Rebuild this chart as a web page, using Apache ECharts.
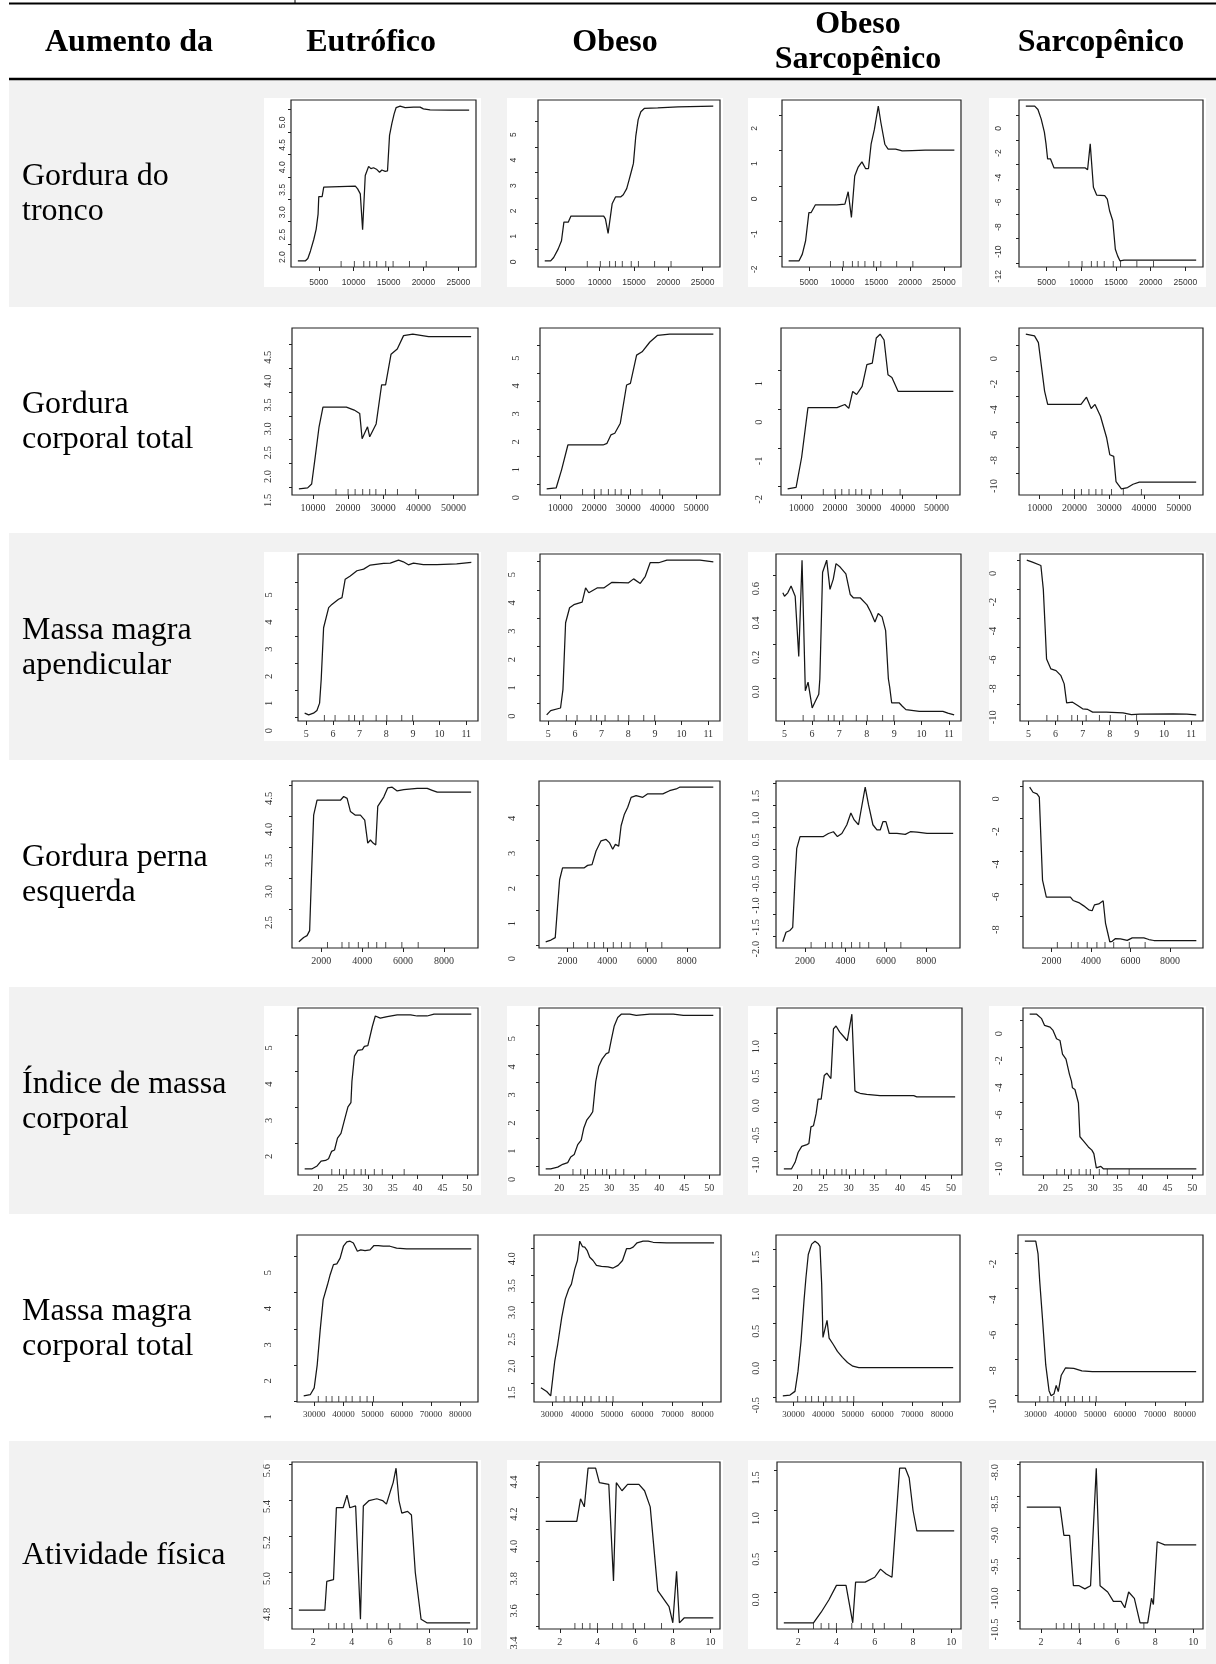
<!DOCTYPE html>
<html>
<head>
<meta charset="utf-8">
<title>Dependência parcial</title>
<script src="https://cdn.jsdelivr.net/npm/echarts@6/dist/echarts.min.js"></script>
<style>
  html, body { margin: 0; padding: 0; background: #fff; }
  #chart { width: 1216px; height: 1664px; }
</style>
</head>
<body>
<div id="chart"></div>
<script>
// column headers and row labels
const groups = ['Eutrófico', 'Obeso', 'Obeso\nSarcopênico', 'Sarcopênico'];
const rowLabels = ['Gordura do\ntronco', 'Gordura\ncorporal total', 'Massa magra\napendicular',
  'Gordura perna\nesquerda', 'Índice de massa\ncorporal', 'Massa magra\ncorporal total', 'Atividade física'];

// --- Gordura do tronco
const troncoXTicks = [5000, 10000, 15000, 20000, 25000];
const troncoRug = [8200, 10100, 11450, 12300, 13300, 14600, 15650, 18000, 20400];
const troncoEut = [[2000,1.63],[3100,1.63],[3430,1.68],[3810,1.85],[4290,2.11],[4620,2.33],[4900,2.67],[5000,3.06],[5480,3.06],[5710,3.27],[10240,3.29],[10570,3.23],[10950,3.12],[11280,2.32],[11660,3.53],[12140,3.73],[12470,3.68],[12850,3.70],[13330,3.66],[13710,3.60],[14040,3.65],[14520,3.62],[14850,3.63],[15140,4.42],[15470,4.68],[15800,4.90],[16090,5.04],[16660,5.07],[17380,5.04],[18570,5.05],[19520,5.05],[19990,5.01],[20950,4.99],[23800,4.98],[26550,4.98]];
const troncoEutY = [2.0, 2.5, 3.0, 3.5, 4.0, 4.5, 5.0];
const troncoObe = [[2000,-0.47],[2860,-0.47],[3300,-0.34],[3950,-0.01],[4440,0.32],[4790,1.05],[5420,1.05],[5820,1.29],[8130,1.29],[10590,1.29],[10840,1.18],[11230,0.61],[11820,1.77],[12310,2.04],[13050,2.04],[13440,2.13],[13940,2.37],[14280,2.70],[14670,3.10],[14920,3.36],[15260,4.42],[15610,5.08],[16000,5.39],[16500,5.52],[18460,5.54],[21410,5.58],[26550,5.61]];
const troncoObeY = [0, 1, 2, 3, 4, 5];
const troncoObeSar = [[2000,-2.13],[3545,-2.13],[4030,-1.94],[4515,-1.56],[5000,-0.76],[5340,-0.76],[5970,-0.54],[9120,-0.54],[10335,-0.52],[10820,-0.17],[11300,-0.90],[11790,0.28],[12275,0.52],[12860,0.68],[13390,0.49],[13830,0.49],[14215,1.18],[14700,1.60],[15280,2.26],[15670,1.79],[16250,1.18],[16740,1.04],[17850,1.04],[18820,0.99],[20280,1.00],[22220,1.01],[26550,1.01]];
const troncoObeSarY = [-2, -1, 0, 1, 2];
const troncoSar = [[2000,0.74],[3280,0.74],[3745,0.47],[4210,-0.29],[4675,-1.37],[4910,-2.32],[5140,-3.54],[5560,-3.54],[6070,-4.27],[8950,-4.27],[10580,-4.27],[10900,-4.41],[11280,-2.32],[11740,-5.84],[12210,-6.47],[13370,-6.52],[13740,-6.79],[14070,-7.74],[14530,-8.55],[14900,-10.86],[15230,-11.4],[15560,-11.8],[16160,-11.75],[18250,-11.75],[26550,-11.75]];
const troncoSarY = [0, -2, -4, -6, -8, -10, -12];

// --- Gordura corporal total
const corporalXTicks = [10000, 20000, 30000, 40000, 50000];
const corporalRug = [16550, 20000, 22000, 24150, 26150, 27900, 30650, 34050, 39250];
const corporalEut = [[6000,1.47],[8490,1.49],[9630,1.57],[10630,2.13],[11740,2.77],[12850,3.18],[19520,3.18],[21740,3.12],[23300,3.05],[23990,2.52],[25530,2.77],[26150,2.56],[27980,2.83],[29540,3.65],[30660,3.65],[32220,4.29],[33990,4.40],[35780,4.68],[38400,4.71],[42900,4.66],[55000,4.66]];
const corporalEutY = [1.5, 2.0, 2.5, 3.0, 3.5, 4.0, 4.5];
const corporalObe = [[6000,-0.15],[8790,-0.12],[10380,0.53],[12240,1.42],[22590,1.42],[23740,1.48],[24880,1.78],[26030,1.84],[27650,2.20],[29500,3.57],[30620,3.63],[32440,4.64],[34060,4.76],[36350,5.11],[38620,5.35],[42150,5.39],[55000,5.39]];
const corporalObeY = [0, 1, 2, 3, 4, 5];
const corporalObeSar = [[6000,-2.06],[8500,-2.02],[10130,-1.25],[12010,0.04],[20600,0.04],[22920,0.12],[24080,0.02],[25240,0.46],[26400,0.38],[28030,0.59],[29430,1.15],[31030,1.19],[32200,1.84],[33350,1.94],[34510,1.79],[35670,0.89],[36830,0.82],[38680,0.46],[55000,0.46]];
const corporalObeSarY = [-2, -1, 0, 1];
const corporalSar = [[6000,0.90],[8500,0.77],[9620,0.24],[11400,-3.57],[12290,-4.62],[21870,-4.62],[23450,-4.05],[24800,-4.94],[25900,-4.62],[27480,-5.55],[29260,-7.26],[30150,-8.57],[31280,-8.70],[31940,-10.68],[33490,-11.25],[35270,-11.15],[36830,-10.89],[38640,-10.73],[55000,-10.73]];
const corporalSarY = [0, -2, -4, -6, -8, -10];

// --- Massa magra apendicular
const apendXTicks = [5, 6, 7, 8, 9, 10, 11];
const apendRug = [5.68, 6.08, 6.6, 6.81, 7.13, 7.62, 8.02, 8.58, 8.99];
const apendEut = [[4.94,0.16],[5.09,0.10],[5.27,0.16],[5.40,0.26],[5.50,0.53],[5.56,1.40],[5.65,3.31],[5.84,4.05],[5.96,4.17],[6.21,4.36],[6.34,4.42],[6.46,5.10],[6.65,5.22],[6.90,5.41],[7.15,5.47],[7.40,5.62],[7.90,5.68],[8.15,5.69],[8.46,5.80],[8.64,5.74],[8.83,5.63],[9.02,5.69],[9.39,5.64],[9.90,5.64],[10.64,5.66],[11.19,5.72]];
const apendEutY = [0, 1, 2, 3, 4, 5];
const apendObe = [[4.94,-0.41],[5.09,-0.26],[5.46,-0.17],[5.55,0.48],[5.65,2.84],[5.80,3.37],[5.96,3.48],[6.27,3.57],[6.40,4.07],[6.52,3.90],[6.83,4.07],[7.08,4.07],[7.39,4.27],[8.01,4.25],[8.20,4.39],[8.45,4.23],[8.64,4.48],[8.82,4.96],[9.14,4.96],[9.45,5.05],[10.01,5.05],[10.69,5.05],[11.19,4.99]];
const apendObeY = [0, 1, 2, 3, 4, 5];
const apendObeSar = [[4.94,0.50],[5.0,0.48],[5.12,0.50],[5.24,0.54],[5.39,0.48],[5.52,0.13],[5.64,0.69],[5.76,-0.07],[5.86,-0.02],[6.01,-0.17],[6.13,-0.13],[6.25,-0.09],[6.29,0.0],[6.39,0.62],[6.54,0.69],[6.66,0.52],[6.78,0.58],[6.88,0.67],[7.03,0.65],[7.24,0.61],[7.40,0.49],[7.52,0.47],[7.77,0.47],[8.01,0.43],[8.14,0.39],[8.30,0.33],[8.42,0.38],[8.56,0.36],[8.69,0.28],[8.79,0.0],[8.84,-0.05],[8.91,-0.14],[9.18,-0.14],[9.30,-0.16],[9.43,-0.18],[9.92,-0.19],[10.78,-0.19],[10.96,-0.20],[11.19,-0.21]];
const apendObeSarY = [0.0, 0.2, 0.4, 0.6];
const apendSar = [[4.94,0.02],[5.15,-0.12],[5.46,-0.35],[5.55,-2.01],[5.62,-4.78],[5.67,-6.85],[5.83,-7.54],[6.02,-7.66],[6.20,-8.01],[6.32,-8.58],[6.41,-9.90],[6.63,-9.85],[6.82,-10.08],[7.0,-10.31],[7.19,-10.36],[7.37,-10.54],[7.87,-10.54],[8.49,-10.59],[8.80,-10.71],[9.11,-10.68],[10.34,-10.66],[10.84,-10.68],[11.19,-10.73]];
const apendSarY = [0, -2, -4, -6, -8, -10];

// --- Gordura perna esquerda
const pernaXTicks = [2000, 4000, 6000, 8000];
const pernaRug = [2300, 3010, 3350, 3810, 4300, 4710, 5150, 5940, 6740];
const pernaEut = [[900,1.98],[1132,2.05],[1299,2.08],[1426,2.16],[1510,2.98],[1623,4.02],[1789,4.26],[2931,4.26],[3093,4.32],[3260,4.29],[3422,4.08],[3667,4.02],[3912,4.02],[4123,3.94],[4270,3.57],[4402,3.62],[4534,3.57],[4662,3.54],[4760,4.16],[5054,4.31],[5250,4.46],[5466,4.47],[5711,4.41],[6034,4.43],[6691,4.45],[7181,4.45],[7426,4.42],[7672,4.39],[8324,4.39],[9330,4.39]];
const pernaEutY = [2.5, 3.0, 3.5, 4.0, 4.5];
const pernaObe = [[900,0.11],[1163,0.16],[1380,0.23],[1496,1.11],[1600,1.88],[1748,2.22],[2842,2.22],[3009,2.29],[3230,2.31],[3432,2.70],[3684,2.99],[3936,3.03],[4103,2.94],[4269,2.75],[4405,2.89],[4572,2.84],[4693,3.42],[4859,3.75],[5026,3.95],[5197,4.23],[5449,4.28],[5782,4.23],[6034,4.33],[6791,4.33],[7129,4.42],[7466,4.47],[7633,4.52],[9330,4.52]];
const pernaObeY = [0, 1, 2, 3, 4];
const pernaObeSar = [[900,-2.13],[1058,-1.91],[1256,-1.87],[1390,-1.80],[1504,-0.68],[1589,0.01],[1752,0.28],[2908,0.28],[3156,0.35],[3404,0.39],[3602,0.28],[3821,0.35],[4069,0.55],[4267,0.82],[4431,0.66],[4644,0.55],[4976,1.41],[5140,1.01],[5358,0.55],[5557,0.43],[5720,0.43],[5854,0.62],[6003,0.62],[6167,0.35],[6549,0.35],[6960,0.33],[7210,0.39],[7541,0.38],[8037,0.35],[9330,0.35]];
const pernaObeSarY = [-2.0, -1.5, -1.0, -0.5, 0.0, 0.5, 1.0, 1.5];
const pernaSar = [[900,-0.08],[1069,-0.39],[1272,-0.49],[1388,-0.69],[1550,-5.76],[1642,-6.26],[1743,-6.81],[2960,-6.81],[3097,-7.01],[3381,-7.14],[3634,-7.34],[3888,-7.58],[4060,-7.64],[4177,-7.28],[4395,-7.22],[4618,-7.03],[4735,-8.39],[4851,-9.0],[4953,-9.54],[5074,-9.51],[5242,-9.34],[5495,-9.36],[5835,-9.45],[6088,-9.30],[6676,-9.30],[6930,-9.40],[7183,-9.46],[9330,-9.46]];
const pernaSarY = [0, -2, -4, -6, -8];

// --- Índice de massa corporal
const imcXTicks = [20, 25, 30, 35, 40, 45, 50];
const imcRug = [22.75, 24.3, 25.65, 27.25, 28.65, 29.5, 31.3, 32.9, 37.3];
const imcEut = [[17.3,1.30],[18.8,1.30],[19.8,1.38],[20.6,1.51],[21.5,1.53],[22.1,1.58],[22.7,1.78],[23.3,1.82],[23.9,2.15],[24.6,2.28],[25.4,2.70],[26.0,3.01],[26.6,3.13],[26.8,3.71],[27.3,4.41],[28.0,4.57],[28.9,4.59],[29.3,4.68],[30.0,4.70],[30.9,5.23],[31.5,5.52],[32.5,5.46],[33.9,5.50],[35.9,5.55],[38.6,5.55],[39.9,5.52],[41.9,5.52],[43.3,5.57],[50.8,5.57]];
const imcEutY = [2, 3, 4, 5];
const imcObe = [[17.3,-0.09],[18.3,-0.09],[19.7,-0.03],[20.7,0.07],[21.7,0.13],[22.3,0.33],[23.0,0.42],[23.7,0.77],[24.4,0.93],[24.9,1.35],[25.5,1.64],[26.2,1.80],[26.7,1.94],[27.3,3.01],[27.9,3.56],[28.6,3.82],[29.4,4.01],[29.9,4.04],[30.4,4.49],[31.0,4.99],[31.7,5.29],[32.4,5.41],[34.1,5.41],[35.4,5.37],[38.1,5.41],[42.8,5.41],[44.8,5.37],[50.8,5.37]];
const imcObeY = [0, 1, 2, 3, 4, 5];
const imcObeSar = [[17.3,-1.29],[18.8,-1.29],[19.5,-1.18],[20.1,-1.01],[20.8,-0.91],[21.8,-0.88],[22.2,-0.86],[22.6,-0.58],[23.1,-0.56],[23.6,-0.36],[24.0,-0.11],[24.6,-0.11],[25.2,0.29],[25.7,0.33],[26.5,0.24],[27.0,1.08],[27.5,1.13],[28.2,1.03],[28.9,0.96],[29.7,0.88],[30.6,1.33],[31.2,0.03],[31.6,0.01],[32.2,-0.01],[33.5,-0.03],[36.1,-0.05],[39.4,-0.05],[42.7,-0.05],[43.3,-0.07],[46.6,-0.07],[50.8,-0.07]];
const imcObeSarY = [-1.0, -0.5, 0.0, 0.5, 1.0];
const imcSar = [[17.3,0.48],[18.7,0.48],[19.7,0.15],[20.3,-0.35],[21.4,-0.48],[22.0,-0.72],[22.7,-1.34],[23.4,-1.47],[23.9,-2.47],[24.6,-2.84],[25.3,-3.97],[25.7,-4.47],[25.9,-4.97],[26.4,-5.09],[27.1,-6.09],[27.4,-8.59],[28.1,-8.89],[29.1,-9.34],[29.8,-9.58],[30.2,-9.84],[30.7,-10.89],[31.1,-10.84],[31.6,-10.78],[32.1,-10.96],[37.2,-10.96],[50.8,-10.96]];
const imcSarY = [0, -2, -4, -6, -8, -10];

// --- Massa magra corporal total
const magraXTicks = [30000, 40000, 50000, 60000, 70000, 80000];
const magraRug = [31400, 34100, 36100, 38400, 40900, 43000, 45700, 48100, 50300];
const magraEut = [[26400,1.14],[28640,1.17],[30000,1.36],[31030,2.0],[32050,2.97],[33070,3.81],[34540,4.22],[35460,4.5],[36590,4.78],[37750,4.8],[38870,4.96],[40000,5.29],[41160,5.41],[42290,5.43],[43410,5.38],[44780,5.15],[45940,5.19],[47400,5.17],[49110,5.19],[50470,5.31],[51940,5.31],[53650,5.29],[55930,5.29],[58220,5.24],[61630,5.22],[67300,5.22],[83800,5.22]];
const magraEutY = [1, 2, 3, 4, 5];
const magraObe = [[26400,1.41],[28320,1.34],[29640,1.26],[30970,1.90],[31970,2.22],[33300,2.72],[34460,3.06],[35620,3.25],[36510,3.34],[37610,3.62],[38500,3.78],[39270,4.14],[40160,4.04],[40930,4.03],[41690,3.97],[42590,3.84],[43680,3.78],[44810,3.69],[46470,3.67],[48660,3.66],[50320,3.64],[51980,3.69],[53440,3.78],[54770,4.0],[55860,4.0],[56960,4.03],[58290,4.11],[60280,4.14],[61940,4.14],[63600,4.12],[68040,4.11],[83800,4.11]];
const magraObeY = [1.5, 2.0, 2.5, 3.0, 3.5, 4.0];
const magraObeSar = [[26400,-0.48],[28820,-0.47],[30500,-0.42],[31510,-0.15],[32520,0.25],[33530,0.8],[34200,1.12],[34980,1.43],[36120,1.57],[37240,1.61],[38250,1.58],[38920,1.54],[39490,1.03],[39930,0.31],[40600,0.32],[41300,0.54],[42000,0.3],[43300,0.22],[44800,0.12],[46500,0.04],[48200,-0.03],[50000,-0.08],[52000,-0.1],[55000,-0.1],[83800,-0.1]];
const magraObeSarY = [-0.5, 0.0, 0.5, 1.0, 1.5];
const magraSar = [[26400,-1.33],[30050,-1.33],[30820,-2.05],[31390,-3.61],[32300,-5.67],[33400,-8.3],[34500,-9.75],[35200,-10.04],[36200,-9.92],[36900,-9.45],[37600,-9.80],[38600,-8.88],[40000,-8.47],[42800,-8.5],[45500,-8.63],[49000,-8.68],[83800,-8.68]];
const magraSarY = [-2, -4, -6, -8, -10];

// --- Atividade física
const ativXTicks = [2, 4, 6, 8, 10];
const ativRug = [2.8, 3.2, 3.6, 4.0, 4.8, 5.3, 5.9, 6.5, 7.4];
const ativEut = [[1.25,4.79],[2.6,4.79],[2.7,4.95],[3.05,4.96],[3.2,5.36],[3.55,5.36],[3.75,5.43],[3.9,5.36],[4.2,5.37],[4.3,5.37],[4.45,4.74],[4.6,5.37],[4.9,5.40],[5.3,5.41],[5.6,5.40],[5.8,5.38],[6.0,5.45],[6.15,5.5],[6.3,5.58],[6.45,5.40],[6.6,5.33],[6.9,5.34],[7.1,5.32],[7.3,5.0],[7.6,4.74],[7.9,4.72],[8.5,4.72],[10.15,4.72]];
const ativEutY = [4.8, 5.0, 5.2, 5.4, 5.6];
const ativObe = [[1.25,4.05],[2.9,4.05],[3.1,4.19],[3.3,4.14],[3.5,4.38],[3.9,4.38],[4.1,4.29],[4.6,4.28],[4.85,3.68],[5.0,4.29],[5.3,4.24],[5.6,4.28],[6.2,4.28],[6.5,4.24],[6.8,4.14],[7.2,3.62],[7.8,3.52],[8.0,3.42],[8.2,3.74],[8.35,3.42],[8.6,3.45],[10.15,3.45]];
const ativObeY = [3.4, 3.6, 3.8, 4.0, 4.2, 4.4];
const ativObeSar = [[1.25,-0.38],[2.8,-0.38],[3.2,-0.25],[3.6,-0.1],[4.0,0.08],[4.5,0.08],[4.85,-0.38],[5.0,0.12],[5.5,0.12],[6.0,0.18],[6.3,0.28],[6.6,0.22],[6.9,0.18],[7.3,1.52],[7.6,1.52],[7.8,1.4],[8.0,1.0],[8.2,0.75],[10.15,0.75]];
const ativObeSarY = [0.0, 0.5, 1.0, 1.5];
const ativSar = [[1.25,-8.68],[3.0,-8.68],[3.2,-9.13],[3.5,-9.13],[3.7,-9.93],[4.0,-9.93],[4.3,-9.98],[4.6,-9.93],[4.9,-8.06],[5.1,-9.93],[5.5,-10.03],[5.8,-10.18],[6.2,-10.18],[6.4,-10.28],[6.6,-10.03],[6.9,-10.13],[7.2,-10.52],[7.6,-10.52],[7.8,-10.13],[7.9,-10.23],[8.1,-9.23],[8.5,-9.28],[10.15,-9.28]];
const ativSarY = [-10.5, -10.0, -9.5, -9.0, -8.5, -8.0];

const rows = [
  { xTicks: troncoXTicks, rug: troncoRug, curves: [troncoEut, troncoObe, troncoObeSar, troncoSar], yTicks: [troncoEutY, troncoObeY, troncoObeSarY, troncoSarY] },
  { xTicks: corporalXTicks, rug: corporalRug, curves: [corporalEut, corporalObe, corporalObeSar, corporalSar], yTicks: [corporalEutY, corporalObeY, corporalObeSarY, corporalSarY] },
  { xTicks: apendXTicks, rug: apendRug, curves: [apendEut, apendObe, apendObeSar, apendSar], yTicks: [apendEutY, apendObeY, apendObeSarY, apendSarY] },
  { xTicks: pernaXTicks, rug: pernaRug, curves: [pernaEut, pernaObe, pernaObeSar, pernaSar], yTicks: [pernaEutY, pernaObeY, pernaObeSarY, pernaSarY] },
  { xTicks: imcXTicks, rug: imcRug, curves: [imcEut, imcObe, imcObeSar, imcSar], yTicks: [imcEutY, imcObeY, imcObeSarY, imcSarY] },
  { xTicks: magraXTicks, rug: magraRug, curves: [magraEut, magraObe, magraObeSar, magraSar], yTicks: [magraEutY, magraObeY, magraObeSarY, magraSarY] },
  { xTicks: ativXTicks, rug: ativRug, curves: [ativEut, ativObe, ativObeSar, ativSar], yTicks: [ativEutY, ativObeY, ativObeSarY, ativSarY] }
];

// layout (pixels)
const rowTop = [79, 307, 533, 760, 987, 1214, 1441];
const headerX = [129, 371, 615, 858, 1101];
const panelX = [264, 507, 748, 989];
const panelW = [217, 216, 214, 217];
const boxX = [
  [[291, 476], [538, 720], [782, 961], [1019, 1203]],
  [[292, 478], [540, 720], [781, 960], [1019, 1203]],
  [[298, 478], [540, 720], [776, 961], [1020, 1203]],
  [[292, 478], [539, 720], [776, 960], [1023, 1203]],
  [[298, 478], [539, 720], [777, 962], [1023, 1203]],
  [[297, 478], [534, 721], [776, 960], [1018, 1203]],
  [[292, 477], [539, 720], [777, 961], [1020, 1203]]
];
// distance of the y labels from the axis, and how far each label sits below its tick
const yGap = [[9, 25, 28, 21], [23, 23, 21, 24], [28, 27, 19, 26], [22, 26, 19, 26],
  [28, 26, 20, 23], [28, 21, 19, 24], [24, 24, 20, 24]];
const yShift = [[13, 13, 13, 13], [13, 13, 13, 13], [13, 13, 13, 13], [13, 13, 13, 13],
  [13, 13, 13, 13], [16, 10, 8, 11], [6, 17, 8, 8]];
const xFont = [8.5, 10, 10, 10, 10, 9, 10];

const SERIF = '"Liberation Serif", "Times New Roman", serif';
const NARROW = '"Liberation Sans Narrow", "Liberation Sans", sans-serif';

// R pads the data range by 4% on each side
function padRange(lo, hi) {
  const d = (hi - lo) * 0.04;
  return [lo - d, hi + d];
}

const grids = [], xAxes = [], yAxes = [], series = [];
rows.forEach((row, r) => {
  const small = r === 0;
  row.curves.forEach((curve, c) => {
    const i = grids.length;
    const [left, right] = boxX[r][c];
    const top = rowTop[r] + 21;
    grids.push({
      left: left, top: top, width: right - left, height: 167,
      show: true, borderColor: '#222', borderWidth: 1.2, backgroundColor: 'transparent',
      containLabel: false
    });
    const xs = curve.map(p => p[0]);
    const ys = curve.map(p => p[1]);
    const xr = padRange(Math.min(...xs), Math.max(...xs));
    const yr = padRange(Math.min(...ys), Math.max(...ys));
    const yt = row.yTicks[c];
    const dec = yt.some(v => !Number.isInteger(v)) ? 1 : 0;
    xAxes.push({
      type: 'value', gridIndex: i, min: xr[0], max: xr[1],
      axisLine: { show: false, onZero: false }, splitLine: { show: false },
      axisTick: { customValues: row.xTicks, length: 4, lineStyle: { color: '#222', width: 1 } },
      axisLabel: {
        customValues: row.xTicks, margin: small ? 11 : 8, color: '#333',
        fontSize: xFont[r], fontFamily: small ? NARROW : SERIF,
        formatter: v => String(v)
      }
    });
    yAxes.push({
      type: 'value', gridIndex: i, min: yr[0], max: yr[1],
      axisLine: { show: false, onZero: false }, splitLine: { show: false },
      axisTick: { customValues: yt, length: 3, lineStyle: { color: '#222', width: 1 } },
      axisLabel: {
        customValues: yt, rotate: 90, margin: yGap[r][c] - 5,
        padding: [0, 2 * yShift[r][c], 0, 0], color: '#333',
        fontSize: small ? 8.5 : 10.5, fontFamily: small ? NARROW : SERIF,
        formatter: v => (Math.abs(v) < 1e-9 ? 0 : v).toFixed(dec)
      }
    });
    series.push({
      type: 'line', xAxisIndex: i, yAxisIndex: i, data: curve,
      showSymbol: false, silent: true,
      lineStyle: { color: '#161616', width: 1.25 }
    });
    series.push({
      type: 'scatter', xAxisIndex: i, yAxisIndex: i,
      data: row.rug.map(x => [x, yr[0]]),
      symbol: 'rect', symbolSize: [1, 6], symbolOffset: [0, -3], silent: true,
      itemStyle: { color: '#222' }
    });
  });
});

// table background, rules and texts
const graphics = [];
rowTop.forEach((t, r) => {
  const b = r < rowTop.length - 1 ? rowTop[r + 1] : 1664;
  if (r % 2 === 0) {
    graphics.push({ type: 'rect', z: -20, silent: true,
      shape: { x: 9, y: t, width: 1207, height: b - t }, style: { fill: '#f2f2f2' } });
  }
  panelX.forEach((x, c) => {
    graphics.push({ type: 'rect', z: -10, silent: true,
      shape: { x: x, y: t + 19, width: panelW[c], height: 189 }, style: { fill: '#fff' } });
  });
  graphics.push({ type: 'text', z: 10, silent: true,
    style: { text: rowLabels[r], x: 22, y: t + 115, font: '32px ' + SERIF,
      align: 'left', verticalAlign: 'middle', lineHeight: 35, fill: '#000' } });
});
graphics.push({ type: 'line', z: 10, silent: true, shape: { x1: 9, y1: 3.5, x2: 1216, y2: 3.5 },
  style: { stroke: '#000', lineWidth: 2 } });
graphics.push({ type: 'line', z: 10, silent: true, shape: { x1: 295, y1: 0, x2: 295, y2: 3 },
  style: { stroke: '#000', lineWidth: 1 } });
graphics.push({ type: 'line', z: 10, silent: true, shape: { x1: 9, y1: 79, x2: 1216, y2: 79 },
  style: { stroke: '#000', lineWidth: 2.5 } });
['Aumento da'].concat(groups).forEach((h, k) => {
  graphics.push({ type: 'text', z: 10, silent: true,
    style: { text: h, x: headerX[k], y: 42.5, font: 'bold 32px ' + SERIF,
      align: 'center', verticalAlign: 'middle', lineHeight: 35, fill: '#000' } });
});

const chart = echarts.init(document.getElementById('chart'), null, { renderer: 'canvas' });
chart.setOption({
  animation: false,
  backgroundColor: '#fff',
  graphic: { elements: graphics },
  grid: grids,
  xAxis: xAxes,
  yAxis: yAxes,
  series: series
});
</script>
</body>
</html>
